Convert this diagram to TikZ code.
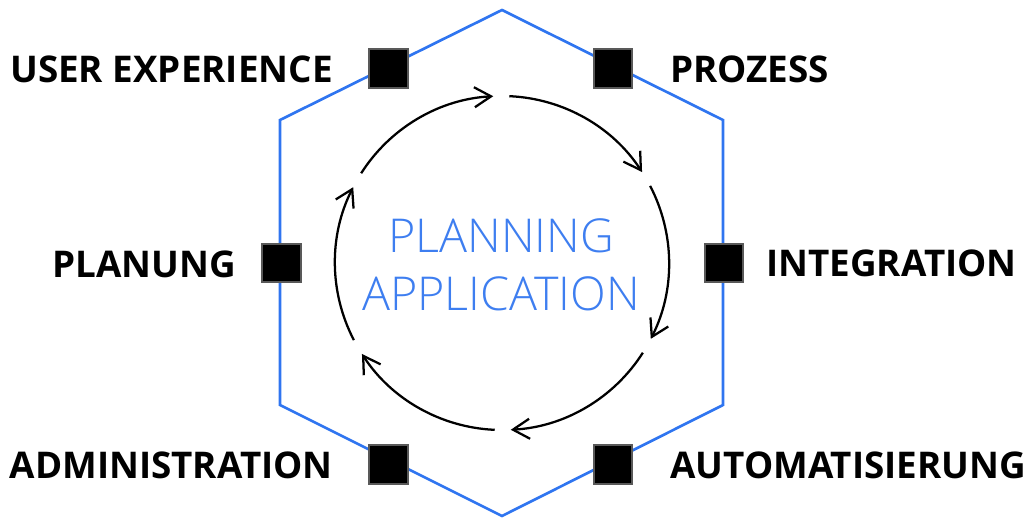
\documentclass[tikz,border=0pt]{standalone}
\usepackage{fontspec}
\setmainfont{Open Sans}
\newfontfamily\thinfont{Open Sans Light}
\usepackage{tikz}
\usetikzlibrary{arrows.meta}
\usetikzlibrary{positioning}

\definecolor{hexblue}{RGB}{47,117,240}
\definecolor{txtblue}{RGB}{62,126,240}

\begin{document}
\begin{tikzpicture}[x=0.75pt,y=0.75pt,
		hex/.style={draw=hexblue, line width=2pt},
		sq/.style={draw=black!65, line width=1.6pt, fill=black, minimum size=29pt, inner sep=0pt},
		lbl/.style={font=\bfseries\fontsize{27.6}{30}\selectfont, inner sep=0pt},
		ttl/.style={font=\thinfont\fontsize{35}{42}\selectfont, text=txtblue, inner sep=0pt},
		cyc/.style={line width=1.7pt, -{Straight Barb[length=12.5pt,width=15pt]}}]
				\useasboundingbox (0,0) rectangle (1027,518);
				
				% hexagon
				\coordinate (h1) at (502,508);
				\coordinate (h2) at (723,398);
				\coordinate (h3) at (723,113);
				\coordinate (h4) at (502,2);
				\coordinate (h5) at (280,113);
				\coordinate (h6) at (280,398);
				\draw[hex] (h1) -- (h2) -- (h3) -- (h4) -- (h5) -- (h6) -- cycle;
				
				% cycle arrows
				\coordinate (c) at (502,255);
				\foreach \g [evaluate=\g as \s using \g-2.5, evaluate=\g as \e using \g-57] in {150,90,30,-30,-90,-150}
					\draw[cyc] ([shift={(\s:167)}]c) arc[start angle=\s, end angle=\e, radius=167];
				
				\node[ttl, anchor=base] (plan) at (501,265.3) {PLANNING};
				\node[ttl, anchor=base] (appl) at (501,208) {APPLICATION};
				
				% squares
				\node[sq] (ux) at (388.5,449.5) {};
				\node[sq] (pz) at (613,449.5) {};
				\node[sq] (pl) at (281.5,255) {};
				\node[sq] (in) at (724,255) {};
				\node[sq] (ad) at (388.5,53.5) {};
				\node[sq] (au) at (613,53.5) {};
				
				% labels
				\node[lbl, anchor=base east] (uxt) at (333,435.3) {USER EXPERIENCE};
				\node[lbl, anchor=base west] (pzt) at (670,435.3) {PROZESS};
				\node[lbl, anchor=base east] (plt) at (236,240) {PLANUNG};
				\node[lbl, anchor=base west] (int) at (766,241) {INTEGRATION};
				\node[lbl, anchor=base east] (adt) at (333,39.7) {ADMINISTRATION};
				\node[lbl, anchor=base west] (aut) at (670,39.7) {AUTOMATISIERUNG};
			\end{tikzpicture}
\end{document}
